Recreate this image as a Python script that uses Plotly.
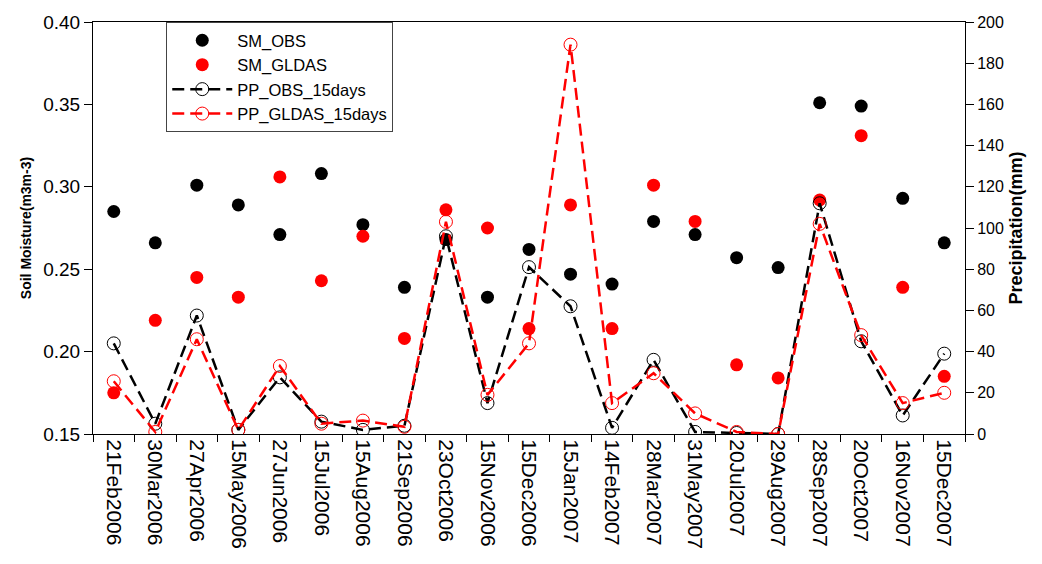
import plotly.graph_objects as go

dates = ["21Feb2006", "30Mar2006", "27Apr2006", "15May2006", "27Jun2006", "15Jul2006",
         "15Aug2006", "21Sep2006", "23Oct2006", "15Nov2006", "15Dec2006", "15Jan2007",
         "14Feb2007", "28Mar2007", "31May2007", "20Jul2007", "29Aug2007", "28Sep2007",
         "20Oct2007", "16Nov2007", "15Dec2007"]

sm_obs = [0.285, 0.266, 0.301, 0.289, 0.271, 0.308, 0.277, 0.239, 0.268, 0.233, 0.262,
          0.247, 0.241, 0.279, 0.271, 0.257, 0.251, 0.351, 0.349, 0.293, 0.266]
sm_gldas = [0.175, 0.219, 0.245, 0.233, 0.306, 0.243, 0.270, 0.208, 0.286, 0.275, 0.214,
            0.289, 0.214, 0.301, 0.279, 0.192, 0.184, 0.292, 0.331, 0.239, 0.185]
pp_obs = [44, 5, 57.5, 2, 27.5, 6, 2, 4, 96, 15, 81, 62, 3, 36, 1, 0.5, 0, 112, 45, 9, 39]
pp_gldas = [25.6, 1, 46, 2, 33, 5, 6.5, 3.5, 103, 19, 44, 189, 15, 29.5, 10, 1, 0, 102, 48, 15, 20]

FONT = "Liberation Sans, Arial, sans-serif"

fig = go.Figure()
fig.add_trace(go.Scatter(x=dates, y=pp_obs, name="PP_OBS_15days", yaxis="y2",
                         mode="lines+markers",
                         line=dict(color="black", width=2.5, dash="12px,6px"),
                         marker=dict(symbol="circle-open", size=13, color="black", line=dict(width=1))))
fig.add_trace(go.Scatter(x=dates, y=pp_gldas, name="PP_GLDAS_15days", yaxis="y2",
                         mode="lines+markers",
                         line=dict(color="red", width=2.5, dash="12px,6px"),
                         marker=dict(symbol="circle-open", size=13, color="red", line=dict(width=1))))
fig.add_trace(go.Scatter(x=dates, y=sm_obs, name="SM_OBS", mode="markers",
                         marker=dict(size=13, color="black")))
fig.add_trace(go.Scatter(x=dates, y=sm_gldas, name="SM_GLDAS", mode="markers",
                         marker=dict(size=13, color="red")))

fig.update_layout(
    width=1042, height=564,
    margin=dict(l=93, r=77, t=20, b=130),
    paper_bgcolor="white", plot_bgcolor="white",
    font=dict(family=FONT, color="black"),
    showlegend=True,
    legend=dict(x=0.084, y=1.0, xanchor="left", yanchor="top",
                bgcolor="white", bordercolor="#444", borderwidth=1,
                font=dict(size=16.5, family=FONT), traceorder="normal",
                tracegroupgap=0, itemwidth=60),
    xaxis=dict(type="category", range=[-0.5, 20.5], tickangle=90,
               tickson="boundaries", ticks="outside", ticklen=7, tickcolor="black",
               showline=True, linecolor="black", linewidth=1, mirror=True,
               showgrid=False, tickfont=dict(size=21)),
    yaxis=dict(range=[0.15, 0.40], dtick=0.05, tickformat=".2f",
               ticks="outside", ticklen=8, tickcolor="black",
               showline=True, linecolor="black", linewidth=1,
               showgrid=False, zeroline=False, tickfont=dict(size=19),
               title=dict(text="<b>Soil Moisture(m3m-3)</b>", font=dict(size=14), standoff=8)),
    yaxis2=dict(range=[0, 200], dtick=20, overlaying="y", side="right",
                ticks="outside", ticklen=8, tickcolor="black",
                showline=True, linecolor="black", linewidth=1,
                showgrid=False, zeroline=False, tickfont=dict(size=16),
                title=dict(text="<b>Precipitation(mm)</b>", font=dict(size=18), standoff=6)),
)

fig.data[2].legendrank = 1
fig.data[3].legendrank = 2
fig.data[0].legendrank = 3
fig.data[1].legendrank = 4

fig.write_html("out.html")
